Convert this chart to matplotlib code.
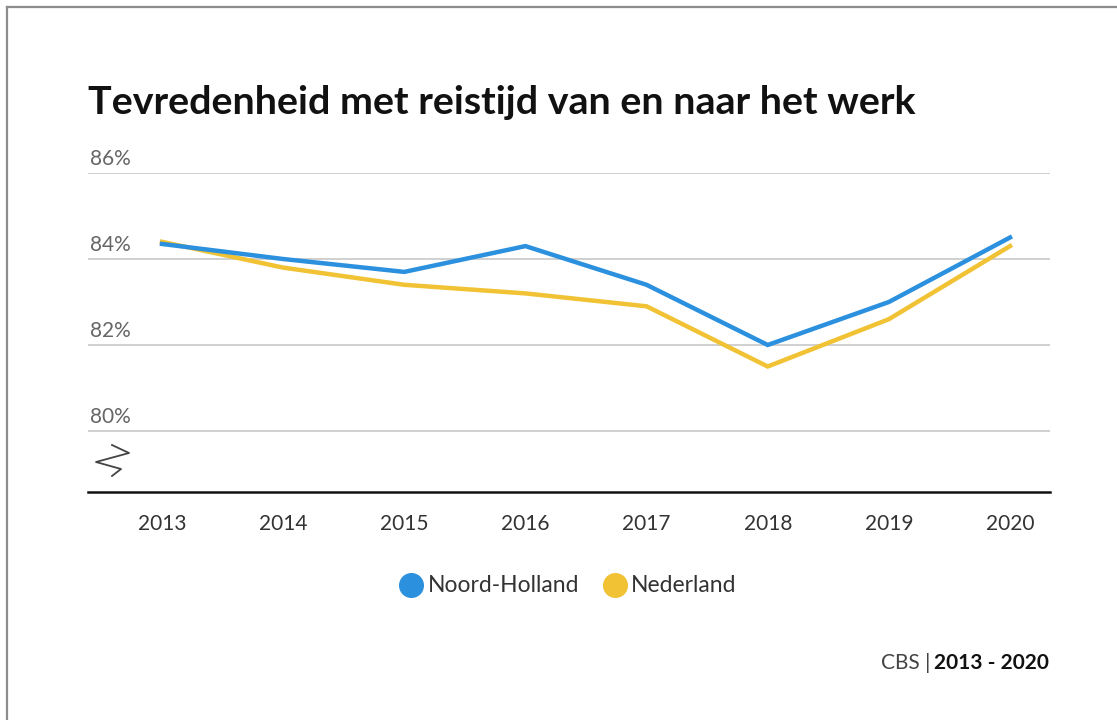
import matplotlib
matplotlib.use("Agg")
import matplotlib.pyplot as plt
from matplotlib.lines import Line2D

years = [2013, 2014, 2015, 2016, 2017, 2018, 2019, 2020]
noord_holland = [84.35, 84.0, 83.7, 84.3, 83.4, 82.0, 83.0, 84.5]
nederland = [84.4, 83.8, 83.4, 83.2, 82.9, 81.5, 82.6, 84.3]
y_ticks = [80, 82, 84, 86]
y_tick_labels = ["80%", "82%", "84%", "86%"]
series_names = ["Noord-Holland", "Nederland"]
title = "Tevredenheid met reistijd van en naar het werk"

BLUE = "#2b90de"
YELLOW = "#f0c234"
FONT = "Lato"

W, H = 1117, 720
fig = plt.figure(figsize=(W / 100, H / 100), dpi=100)
fig.patch.set_facecolor("white")

def fx(px):
    return px / W

def fy(py):
    return 1 - py / H

# frame border (left and top)
fig.add_artist(Line2D([fx(7), fx(7)], [fy(7), 0], transform=fig.transFigure, color="#8c8c8c", lw=1.6))
fig.add_artist(Line2D([fx(7), 1], [fy(7), fy(7)], transform=fig.transFigure, color="#8c8c8c", lw=1.6))

ax_left, ax_right = 88, 1050
ax_top, ax_bottom = 173, 492
ax = fig.add_axes([fx(ax_left), fy(ax_bottom), fx(ax_right - ax_left), (ax_bottom - ax_top) / H])
px_per_year = (1010 - 162) / 7
ax.set_xlim(2013 - (162 - ax_left) / px_per_year, 2020 + (ax_right - 1010) / px_per_year)
ax.set_ylim(80 - (492 - 431) / 43, 86)

for s in ["top", "right", "left"]:
    ax.spines[s].set_visible(False)
ax.spines["bottom"].set_color("#111111")
ax.spines["bottom"].set_linewidth(1.8)

for t in y_ticks:
    ax.axhline(t, color="#d0d0d0", lw=1.4, zorder=1)
ax.set_yticks([])
for t, lab in zip(y_ticks, y_tick_labels):
    ax.text(0.002, t + 0.1, lab, transform=ax.get_yaxis_transform(), ha="left", va="bottom",
            fontsize=15, color="#666666", family=FONT)

ax.plot(years, nederland, color=YELLOW, lw=3.2, zorder=3, solid_joinstyle="miter", clip_on=False)
ax.plot(years, noord_holland, color=BLUE, lw=3.2, zorder=4, solid_joinstyle="miter", clip_on=False)

ax.set_xticks(years)
ax.set_xticklabels([str(y) for y in years], fontsize=15, color="#333333", family=FONT)
ax.tick_params(axis="x", length=0, pad=16)

# axis break symbol
bx = [112, 129, 96, 121, 112]
by = [445, 453, 462, 469, 476]
fig.add_artist(Line2D([fx(x) for x in bx], [fy(y) for y in by], transform=fig.transFigure,
                      color="#444444", lw=1.3))

fig.text(fx(88), fy(103), title, fontsize=28.4, fontweight="bold", family=FONT, color="#111111",
         ha="left", va="center")

# legend
for name, col, cx, tx in [(series_names[0], BLUE, 411, 428), (series_names[1], YELLOW, 615, 631)]:
    fig.add_artist(Line2D([fx(cx)], [fy(585)], transform=fig.transFigure, marker="o", markersize=17,
                          color=col, lw=0))
    fig.text(fx(tx), fy(585), name, fontsize=16.5, color="#333333", family=FONT, ha="left", va="center")

# footer
t2 = fig.text(fx(1049), fy(663), "2013 - 2020", fontsize=15, fontweight="bold", color="#111111",
              family=FONT, ha="right", va="center")
fig.canvas.draw()
bb = t2.get_window_extent()
t1 = fig.text(bb.x0 / W - fx(4), fy(663), "CBS |", fontsize=15, color="#444444", family=FONT,
              ha="right", va="center")

fig.savefig("out.png", dpi=100, facecolor="white")
